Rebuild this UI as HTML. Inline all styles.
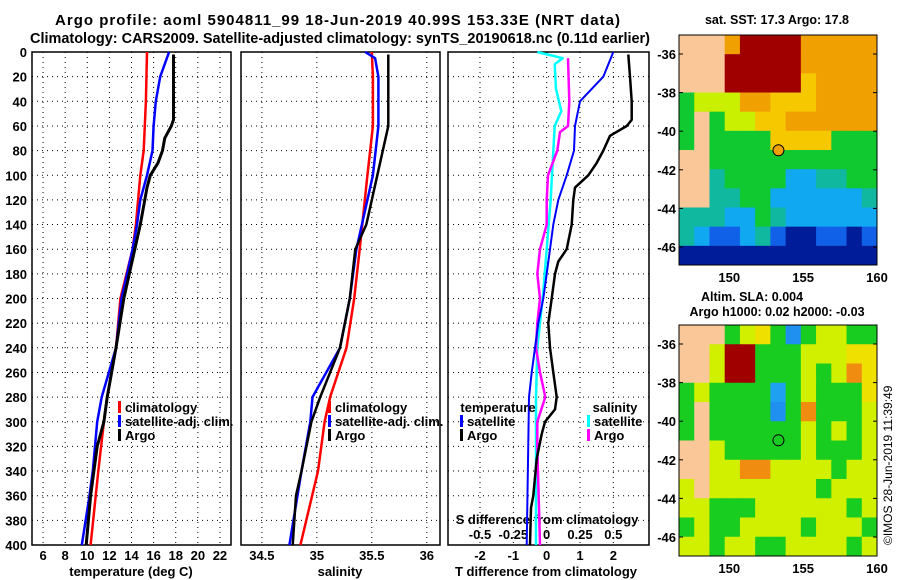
<!DOCTYPE html>
<html><head><meta charset="utf-8">
<style>
html,body{margin:0;padding:0;background:#fff;}
svg{display:block;font-family:"Liberation Sans",sans-serif;font-weight:bold;}
</style></head>
<body>
<svg id="c" width="900" height="580" viewBox="0 0 900 580">
<text x="55" y="25" font-size="15" textLength="565" lengthAdjust="spacing">Argo profile: aoml 5904811_99 18-Jun-2019 40.99S 153.33E (NRT data)</text>
<text x="30" y="43" font-size="14.5" textLength="620" lengthAdjust="spacingAndGlyphs">Climatology: CARS2009. Satellite-adjusted climatology: synTS_20190618.nc (0.11d earlier)</text>
<text x="777" y="24" font-size="12.5" text-anchor="middle">sat. SST: 17.3 Argo: 17.8</text>
<text x="752" y="301" font-size="12.5" text-anchor="middle">Altim. SLA: 0.004</text>
<text x="777" y="316" font-size="12.5" text-anchor="middle">Argo h1000: 0.02 h2000: -0.03</text>
<text transform="translate(892,545) rotate(-90)" font-size="12" font-weight="normal">©IMOS 28-Jun-2019 11:39:49</text>
</svg>
<script>
// ---------- data ----------
const depthTicks=[0,20,40,60,80,100,120,140,160,180,200,220,240,260,280,300,320,340,360,380,400];
const tempTicks=[6,8,10,12,14,16,18,20,22];
const salTicks=[34.5,35,35.5,36];
const salTickLabels=["34.5","35","35.5","36"];
const tdiffTicks=[-2,-1,0,1,2];
const sdiffTicks=[-0.5,-0.25,0,0.25,0.5];
const sdiffTickLabels=["-0.5","-0.25","0","0.25","0.5"];

const climTDepth=[0,40,80,100,140,160,200,240,280,300,340,400];
const climT=[15.4,15.3,15.1,14.8,14.4,14.1,13.0,12.6,11.8,11.5,11.0,10.3];
const satTDepth=[0,20,40,60,80,100,120,140,160,200,240,280,300,320,340,360,400];
const satT=[17.4,16.6,16.2,16.0,15.9,15.4,14.8,14.5,14.1,13.1,12.6,11.3,10.9,10.7,10.5,10.2,9.5];
const argoTDepth=[2,55,60,70,80,90,100,110,140,160,200,240,280,300,320,340,360,400];
const argoT=[17.8,17.8,17.6,17.0,16.8,16.4,15.7,15.4,14.8,14.3,13.3,12.6,11.8,11.5,10.9,10.6,10.3,9.9];

const climSDepth=[0,20,60,100,160,200,240,280,300,340,400];
const climS=[35.5,35.51,35.51,35.46,35.39,35.34,35.27,35.12,35.07,35.01,34.85];
const satSDepth=[0,5,20,60,100,160,200,240,280,300,340,400];
const satS=[35.44,35.53,35.56,35.56,35.51,35.36,35.3,35.21,34.96,34.94,34.86,34.75];
const argoSDepth=[2,60,80,100,140,160,200,240,280,300,340,360,400];
const argoS=[35.65,35.65,35.6,35.55,35.45,35.35,35.3,35.21,35.03,34.95,34.86,34.81,34.78];

const dTsatDepth=[0,20,40,60,80,100,120,140,160,180,200,220,240,260,280,400];
const dTsat=[2.0,1.7,1.0,0.85,0.82,0.6,0.35,0.2,0.1,0.0,-0.1,-0.25,-0.35,-0.45,-0.53,-0.6];
const dTargoDepth=[2,20,40,55,60,68,80,90,100,110,120,140,160,170,180,200,220,240,260,280,290,300,310,330,360,370,400];
const dTargo=[2.45,2.5,2.55,2.55,2.4,1.9,1.7,1.5,1.25,0.85,0.8,0.75,0.6,0.35,0.25,0.15,0.05,0.1,0.2,0.3,0.25,-0.05,-0.15,-0.3,-0.4,-0.47,-0.5];
const dSsatDepth=[0,5,10,30,48,60,100,120,160,200,240,280,400];
const dSsat=[-0.07,0.12,0.06,0.07,0.11,0.06,0.04,0.03,0.0,-0.03,-0.07,-0.08,-0.08];
const dSargoDepth=[5,40,60,65,80,100,120,140,160,180,200,220,240,260,280,300,320,400];
const dSargo=[0.16,0.17,0.16,0.1,0.08,0.01,0.0,0.0,-0.05,-0.07,-0.05,-0.07,-0.08,-0.05,-0.01,-0.07,-0.07,-0.05];

const sstGrid=["LLLORRRROOOOO","LLLRRRRROOOOO","LLLRRRRRYOOOO","GyyyOOYYYOOOO","GLGyyYYOOOOOO","GLGGGGYYYYGGG","LLGGGGGGGGGGG","LLTGGGGCCTTGG","LLTTGGCCCCCCT","TTTCCGTCCCCCC","TCBBCTBNNBBNB","NNNNNNNNNNNNN"];
const slaGrid=["LLLGyYGBGyyGG","LLyRRGGGyyyYY","LLyRRGGGyGyOY","GyGGGGCGyGGGY","GLGGGGBGOGGGy","GLGGGGGGyGyGy","LLyGGGGGyGGGy","LLyyOOyyyyGyy","yLyyyyyyyGyyy","yyGGGyyyyyyGy","GyGGyyyyGyyyG","yyGyyGGyyyyGy"];
const lonTicks=[150,155,160];
const latTicks=[-36,-38,-40,-42,-44,-46];
const argoLon=153.33, argoLat=-40.99;

// ---------- drawing ----------
const svg=document.getElementById('c');
const NS="http://www.w3.org/2000/svg";
function mk(tag,attrs,parent){const e=document.createElementNS(NS,tag);for(const k in attrs)e.setAttribute(k,attrs[k]);(parent||svg).appendChild(e);return e;}
const Y0=52,Y1=545;
const yD=d=>Y0+(Y1-Y0)*d/400;
const panels=[
 {x0:32,x1:231,v0:5,v1:23,name:'temperature'},
 {x0:241,x1:440,v0:34.31,v1:36.12,name:'salinity'},
 {x0:448,x1:649,v0:-2.96,v1:3.07,name:'difference'}];
panels.forEach(p=>p.f=v=>p.x0+(v-p.v0)/(p.v1-p.v0)*(p.x1-p.x0));
const sx=v=>panels[2].f(v*4);

function grid(p,xt){
  const g=mk('g',{});
  
  
  depthTicks.forEach(d=>{if(d>0&&d<400)mk('line',{x1:p.x0,x2:p.x1,y1:yD(d),y2:yD(d),stroke:'#000','stroke-width':1,'stroke-dasharray':'1,4'},g);});
  xt.forEach(v=>mk('line',{x1:p.f(v),x2:p.f(v),y1:Y0,y2:Y1,stroke:'#000','stroke-width':1,'stroke-dasharray':'1,4'},g));
  const r=mk('rect',{x:p.x0,y:Y0,width:p.x1-p.x0,height:Y1-Y0,fill:'none',stroke:'#000','stroke-width':1.5});
  
  
}
grid(panels[0],tempTicks);grid(panels[1],salTicks);grid(panels[2],tdiffTicks);

depthTicks.forEach(d=>{
  const t=mk('text',{x:27,y:yD(d)+5,'font-size':13,'text-anchor':'end'});
  t.textContent=d;
  
  
});
function xlabels(p,ticks,labels,y,cls,fn){
  ticks.forEach((v,i)=>{
    const t=mk('text',{x:(fn||p.f)(v),y:y,'font-size':13,'text-anchor':'middle'});
    t.textContent=labels?labels[i]:v;
    
    
  });
}
xlabels(panels[0],tempTicks,null,560,'temperature-tick-label');
xlabels(panels[1],salTicks,salTickLabels,560,'salinity-tick-label');
xlabels(panels[2],tdiffTicks,null,560,'t-difference-tick-label');
xlabels(panels[2],sdiffTicks,sdiffTickLabels,539,'s-difference-tick-label',sx);
function label(x,y,txt,name){const t=mk('text',{x:x,y:y,'font-size':13,'text-anchor':'middle'});t.textContent=txt;}
label(131,576,'temperature (deg C)','temperature-axis-title');
label(340,576,'salinity','salinity-axis-title');
label(546,576,'T difference from climatology','t-difference-axis-title');
label(547,524,'S difference from climatology','s-difference-axis-title');

function line(dep,vals,fx,color,w,name){
  const pts=dep.map((d,i)=>fx(vals[i]).toFixed(1)+','+yD(d).toFixed(1)).join(' ');
  const l=mk('polyline',{points:pts,fill:'none',stroke:color,'stroke-width':w,'stroke-linejoin':'round'});
  
  
}
const pT=panels[0].f,pS=panels[1].f,pD=panels[2].f;
line(climTDepth,climT,pT,'#f00',2.5,'temperature-climatology-line');
line(satTDepth,satT,pT,'#00f',2.5,'temperature-satellite-line');
line(argoTDepth,argoT,pT,'#000',3,'temperature-argo-line');
line(climSDepth,climS,pS,'#f00',2.5,'salinity-climatology-line');
line(satSDepth,satS,pS,'#00f',2.5,'salinity-satellite-line');
line(argoSDepth,argoS,pS,'#000',2.5,'salinity-argo-line');
line(dSsatDepth,dSsat,sx,'#0ff',2.5,'s-diff-satellite-line');
line(dSargoDepth,dSargo,sx,'#f0f',2.5,'s-diff-argo-line');
line(dTsatDepth,dTsat,pD,'#00f',2,'t-diff-satellite-line');
line(dTargoDepth,dTargo,pD,'#000',2.5,'t-diff-argo-line');

function leg(x,y,color,txt,name){
  const g=mk('g',{});
  
  
  mk('rect',{x:x,y:y-11,width:3,height:12,fill:color},g);
  const t=mk('text',{x:x+7,y:y,'font-size':13},g);t.textContent=txt;
}
leg(118,412,'#f00','climatology','legend-entry-climatology');
leg(118,426,'#00f','satellite-adj. clim.','legend-entry-satellite');
leg(118,440,'#000','Argo','legend-entry-argo');
leg(328,412,'#f00','climatology','legend-entry-climatology-sal');
leg(328,426,'#00f','satellite-adj. clim.','legend-entry-satellite-sal');
leg(328,440,'#000','Argo','legend-entry-argo-sal');
label(498,412,'temperature','legend-title-temperature');
label(615,412,'salinity','legend-title-salinity');
leg(460,426,'#00f','satellite','legend-entry-t-satellite');
leg(460,440,'#000','Argo','legend-entry-t-argo');
leg(587,426,'#0ff','satellite','legend-entry-s-satellite');
leg(587,440,'#f0f','Argo','legend-entry-s-argo');

const pal={L:'#fac898',R:'#a00000',O:'#f0a000',Y:'#f5c800',y:'#c8f000',G:'#10c830',T:'#10b8a0',C:'#10a8f0',B:'#1060e8',N:'#001c98'};
const palSla={L:'#fac898',R:'#a00000',O:'#f08c10',Y:'#f0e000',y:'#d0f000',G:'#18cc20',T:'#10b8a0',C:'#20a0f0',B:'#2090f0',N:'#001c98'};
function map(gridRows,p,top,bot,name,circleFill){
  const x0=679,x1=877,lon0=146.6,lon1=160,lat0=top.lat,lat1=bot.lat;
  const fx=l=>x0+(l-lon0)/(lon1-lon0)*(x1-x0);
  const fy=l=>top.y+(l-lat0)/(lat1-lat0)*(bot.y-top.y);
  const g=mk('g',{});
  
  
  const Y0m=top.py,Y1m=bot.py;
  const cw=(x1-x0)/gridRows[0].length,ch=(Y1m-Y0m)/gridRows.length;
  gridRows.forEach((row,r)=>{for(let c=0;c<row.length;c++){mk('rect',{x:x0+c*cw,y:Y0m+r*ch,width:cw+0.5,height:ch+0.5,fill:p[row[c]]},g);}});
  mk('rect',{x:x0,y:Y0m,width:x1-x0,height:Y1m-Y0m,fill:'none',stroke:'#000','stroke-width':1},g);
  latTicks.forEach(l=>{const t=mk('text',{x:676,y:fy(l)+5,'font-size':13,'text-anchor':'end'},g);t.textContent=l;
    mk('line',{x1:x0,x2:x0+4,y1:fy(l),y2:fy(l),stroke:'#000'},g);mk('line',{x1:x1,x2:x1-4,y1:fy(l),y2:fy(l),stroke:'#000'},g);});
  lonTicks.forEach(l=>{const t=mk('text',{x:fx(l),y:Y1m+17,'font-size':13,'text-anchor':'middle'},g);t.textContent=l;});
  const c=mk('circle',{cx:fx(argoLon),cy:fy(argoLat),r:5.5,fill:circleFill,stroke:'#000','stroke-width':1});
  
  
}
map(sstGrid,pal,{lat:-36,y:54,py:35},{lat:-46,y:247,py:265},'sst-map','#f0a000');
map(slaGrid,palSla,{lat:-36,y:344,py:325},{lat:-46,y:537,py:556},'sla-map','none');
</script>
</body></html>
